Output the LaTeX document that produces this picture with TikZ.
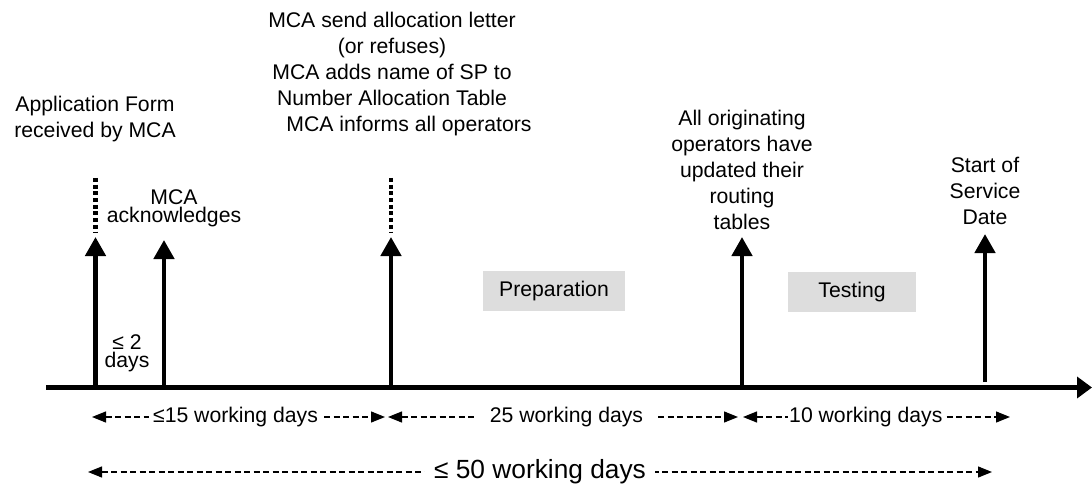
\documentclass[tikz,border=0pt]{standalone}
\usepackage{fontspec}
\setmainfont{Liberation Sans}
\usetikzlibrary{arrows.meta}
\definecolor{phasegrey}{RGB}{221,221,221}
\tikzset{
  event/.style={line width=4.5pt,-{Triangle[length=19pt,width=20pt]}},
  pending/.style={line width=4.5pt,dash pattern=on 4pt off 2.7pt},
  span/.style={line width=1.2pt,dash pattern=on 6pt off 3.5pt,
    {Triangle[length=14pt,width=11pt]}-{Triangle[length=14pt,width=11pt]}},
  spanlbl/.style={fill=white,inner sep=1pt,font=\fontsize{21.2}{26}\selectfont},
  phase/.style={fill=phasegrey,inner sep=0pt,font=\fontsize{21.2}{26}\selectfont},
  lbl/.style={align=center,inner sep=0pt,font=\fontsize{21.2}{26}\selectfont},
  tight/.style={align=center,inner sep=0pt,font=\fontsize{21.2}{18}\selectfont}
}

\begin{document}
\begin{tikzpicture}[x=1pt,y=1pt]
  \useasboundingbox (0,0) rectangle (1092,488);
  % time axis
  \coordinate (start) at (46,100.5);
  \coordinate (end) at (1092,100.5);
  \draw[line width=5pt,-{Triangle[length=15pt,width=21pt]}] (start) -- (end);
  % events
  \coordinate (t1) at (95.5,100.5);
  \coordinate (t2) at (164,100.5);
  \coordinate (t3) at (391,100.5);
  \coordinate (t4) at (742,100.5);
  \coordinate (t5) at (985,106);
  \coordinate (e1) at (95.5,251);
  \coordinate (e2) at (164,248);
  \coordinate (e3) at (391,251);
  \coordinate (e4) at (742,251);
  \coordinate (e5) at (985,254);
  \draw[event] (t1) -- (e1);
  \draw[event] (t2) -- (e2);
  \draw[event] (t3) -- (e3);
  \draw[event] (t4) -- (e4);
  \draw[event] (t5) -- (e5);
  \draw[pending] (95.5,310) -- (95.5,256);
  \draw[pending] (391,310) -- (391,256);
  % event labels
  \node[lbl] (appl) at (95,369) {Application Form\\received by MCA};
  \node[tight] (ack) at (174,279.5) {MCA\\acknowledges};
  \node[tight] (twodays) at (127,134.5) {≤ 2\\days};
  \node[lbl] (alloc) at (392,413.5) {MCA send allocation letter\\(or refuses)\\MCA adds name of SP to\\Number Allocation Table\\\hspace*{34pt}MCA informs all operators};
  \node[lbl] (routing) at (742,318.5) {All originating\\operators have\\updated their\\routing\\tables};
  \node[lbl] (sos) at (985,297) {Start of\\Service\\Date};
  % phases
  \node[phase,minimum width=142pt,minimum height=40pt] (prep) at (554,197) {Preparation};
  \node[phase,minimum width=128pt,minimum height=40pt] (test) at (852,196) {Testing};
  % durations
  \coordinate (a1) at (92,71);
  \coordinate (b1) at (385,71);
  \coordinate (a2) at (388,71);
  \coordinate (b2) at (738,71);
  \coordinate (a3) at (743,71);
  \coordinate (b3) at (1010,71);
  \coordinate (a4) at (88,16);
  \coordinate (b4) at (992,16);
  \draw[span] (a1) -- node[spanlbl,pos=0.49,inner xsep=4pt] (d15) {≤15 working days} (b1);
  \draw[span] (a2) -- node[spanlbl,pos=0.51,inner xsep=14pt] (d25) {25 working days} (b2);
  \draw[span] (a3) -- node[spanlbl,pos=0.46] (d10) {10 working days} (b3);
  \draw[span] (a4) -- node[spanlbl,inner xsep=9pt,font=\fontsize{26.3}{30}\selectfont] (d50) {≤ 50 working days} (b4);
\end{tikzpicture}
\end{document}
